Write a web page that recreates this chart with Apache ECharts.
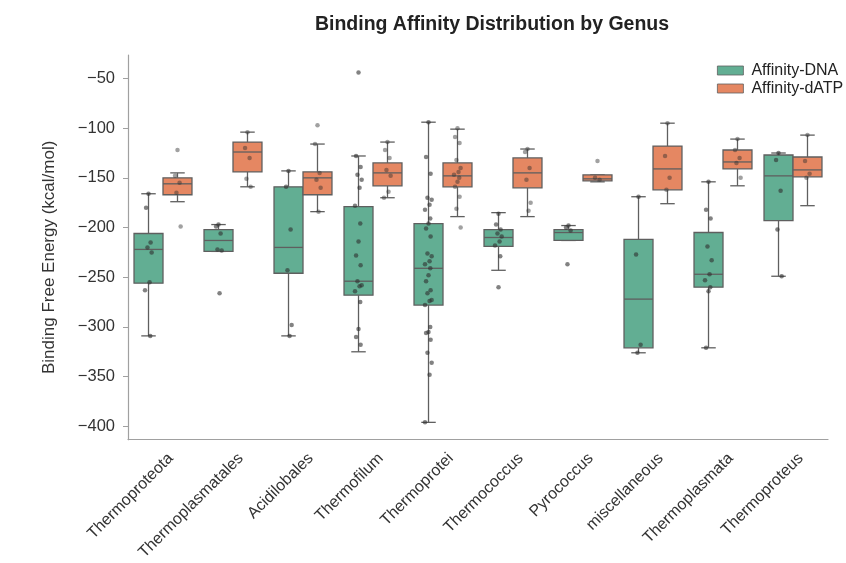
<!DOCTYPE html>
<html>
<head>
<meta charset="utf-8">
<script src="https://cdn.jsdelivr.net/npm/echarts@6/dist/echarts.min.js"></script>
<style>
html,body{margin:0;padding:0;background:#fff;}
#chart{width:846px;height:563px;}
</style>
</head>
<body>
<div id="chart"></div>
<script>
// ---------------- data ----------------
const categories = ['Thermoproteota','Thermoplasmatales','Acidilobales','Thermofilum','Thermoprotei','Thermococcus','Pyrococcus','miscellaneous','Thermoplasmata','Thermoproteus'];
const seriesNames = ['Affinity-DNA','Affinity-dATP'];
const yTicks = [-400,-350,-300,-250,-200,-150,-100,-50];

// box stats: [lower whisker, Q1, median, Q3, upper whisker]
const dnaBoxes = [
  [-309,-256,-222,-206,-166],
  [-224,-224,-213,-202,-197],
  [-309,-246,-220,-159,-143],
  [-325,-268,-254,-179,-128],
  [-396,-278,-241,-196,-94],
  [-243,-219,-210,-202,-185],
  [-213,-213,-205,-202,-198],
  [-326,-321,-272,-212,-169],
  [-321,-260,-247,-205,-154],
  [-249,-193,-148,-127,-125]
];
const datpBoxes = [
  [-174,-167,-156,-150,-145],
  [-159,-144,-124,-114,-104],
  [-184,-167,-150,-144,-116],
  [-170,-158,-145,-135,-114],
  [-189,-159,-148,-135,-101],
  [-189,-160,-145,-130,-121],
  [-154,-153,-151,-147,-147],
  [-176,-162,-141,-118,-95],
  [-158,-141,-134,-122,-111],
  [-178,-149,-142,-129,-107]
];

// individual observations (strip points), per genus
const dnaPoints = [
  [-166,-180,-215,-220,-225,-255,-263,-309],
  [-197,-199,-206,-222,-223,-266],
  [-143,-159,-202,-243,-298,-309],
  [-44,-128,-139,-147,-152,-160,-178,-196,-214,-228,-238,-254,-258,-259,-264,-275,-302,-310,-318],
  [-94,-129,-146,-170,-172,-177,-182,-191,-196,-201,-209,-226,-229,-234,-237,-241,-248,-254,-263,-266,-273,-274,-278,-300,-305,-306,-313,-326,-336,-348,-396],
  [-186,-197,-202,-206,-209,-214,-218,-229,-260],
  [-198,-200,-203,-237],
  [-169,-227,-318,-326],
  [-154,-182,-191,-219,-233,-247,-253,-260,-264,-321],
  [-125,-132,-163,-202,-249]
];
const datpPoints = [
  [-122,-148,-155,-165,-199],
  [-104,-120,-130,-151,-159],
  [-97,-116,-145,-152,-160,-184],
  [-114,-122,-130,-142,-148,-164,-170],
  [-100,-109,-115,-132,-140,-144,-147,-150,-154,-159,-169,-181,-200],
  [-121,-124,-140,-152,-175,-183],
  [-133,-150,-152],
  [-95,-128,-150,-162],
  [-111,-122,-130,-135,-150],
  [-107,-133,-146,-150]
];

// ---------------- styling ----------------
const FONT = '"Liberation Sans", Arial, Helvetica, sans-serif';
const GREEN = '#62ae93';
const ORANGE = '#e58762';
const EDGE = '#5f5f5f';
const AXIS = '#a0a0a0';
const jitterPattern = [0, -0.035, 0.03, -0.015, 0.045, 0.015, -0.05, 0.025];
const groupOffset = 0.207; // box centre offset (category units)
const boxHalf = 0.207;     // half box width (category units)

function stripData(points, sign) {
  const out = [];
  points.forEach((vals, ci) => {
    vals.forEach((v, k) => {
      out.push([ci + sign * groupOffset + jitterPattern[k % jitterPattern.length], v]);
    });
  });
  return out;
}
function boxData(boxes) {
  return boxes.map((b, i) => [i].concat(b));
}
function boxRenderer(sign, fill) {
  return function (params, api) {
    const ci = api.value(0);
    const band = api.size([1, 0])[0];
    const cx = api.coord([ci, api.value(3)])[0] + sign * band * groupOffset;
    const y = i => api.coord([ci, api.value(i)])[1];
    const yMin = y(1), yQ1 = y(2), yMed = y(3), yQ3 = y(4), yMax = y(5);
    const hw = band * boxHalf, cw = hw / 2;
    const ls = {stroke: EDGE, lineWidth: 1.3};
    return {type: 'group', children: [
      {type: 'line', shape: {x1: cx, y1: yQ3, x2: cx, y2: yMax}, style: ls},
      {type: 'line', shape: {x1: cx, y1: yQ1, x2: cx, y2: yMin}, style: ls},
      {type: 'line', shape: {x1: cx - cw, y1: yMax, x2: cx + cw, y2: yMax}, style: ls},
      {type: 'line', shape: {x1: cx - cw, y1: yMin, x2: cx + cw, y2: yMin}, style: ls},
      {type: 'rect', shape: {x: cx - hw, y: yQ3, width: 2 * hw, height: yQ1 - yQ3}, style: {fill: fill, stroke: EDGE, lineWidth: 1.3}},
      {type: 'line', shape: {x1: cx - hw, y1: yMed, x2: cx + hw, y2: yMed}, style: ls}
    ]};
  };
}

const chart = echarts.init(document.getElementById('chart'), null, {renderer: 'canvas'});
const fmt = v => String(v).replace('-', '\u2212');

const option = {
  backgroundColor: '#ffffff',
  animation: false,
  title: {
    text: 'Binding Affinity Distribution by Genus',
    left: 487, top: 10, textAlign: 'center',
    textStyle: {fontFamily: FONT, fontSize: 19.5, fontWeight: 'bold', color: '#222'}
  },
  legend: {
    data: [
      {name: seriesNames[0], itemStyle: {color: GREEN, borderColor: EDGE, borderWidth: 0.8}},
      {name: seriesNames[1], itemStyle: {color: ORANGE, borderColor: EDGE, borderWidth: 0.8}}
    ],
    orient: 'vertical',
    left: 712, top: 57,
    itemWidth: 26, itemHeight: 9, itemGap: 1,
    icon: 'rect',
    textStyle: {fontFamily: FONT, fontSize: 16, color: '#222', padding: [0,0,0,3], lineHeight: 17}
  },
  grid: {left: 128, right: 18, top: 55, bottom: 123, containLabel: false},
  xAxis: [
    {
      type: 'category', data: categories, boundaryGap: true,
      axisLine: {onZero: false, lineStyle: {color: AXIS, width: 1.2}},
      axisTick: {alignWithLabel: true, length: 5, lineStyle: {color: AXIS}},
      axisLabel: {rotate: 45, margin: 24, padding: [0,-11,0,0], fontFamily: FONT, fontSize: 16, color: '#333', interval: 0},
      splitLine: {show: false}
    },
    {type: 'value', min: -0.5, max: 9.5, show: false}
  ],
  yAxis: {
    type: 'value', min: -413.4, max: -26.4,
    name: 'Binding Free Energy (kcal/mol)', nameLocation: 'middle', nameGap: 70,
    nameTextStyle: {fontFamily: FONT, fontSize: 17, color: '#333', padding: [0,20,0,0]},
    axisLine: {show: true, onZero: false, lineStyle: {color: AXIS, width: 1.2}},
    axisTick: {show: true, length: 5, customValues: yTicks, lineStyle: {color: AXIS}},
    axisLabel: {customValues: yTicks, formatter: fmt, margin: 13, fontFamily: FONT, fontSize: 16.5, color: '#333'},
    splitLine: {show: false}
  },
  series: [
    {
      name: seriesNames[0], type: 'custom', xAxisIndex: 0, data: boxData(dnaBoxes),
      encode: {x: 0, y: [1, 2, 3, 4, 5]},
      itemStyle: {color: GREEN}, renderItem: boxRenderer(-1, GREEN), silent: true
    },
    {
      name: seriesNames[1], type: 'custom', xAxisIndex: 0, data: boxData(datpBoxes),
      encode: {x: 0, y: [1, 2, 3, 4, 5]},
      itemStyle: {color: ORANGE}, renderItem: boxRenderer(1, ORANGE), silent: true
    },
    {
      name: 'dna-points', type: 'scatter', xAxisIndex: 1, data: stripData(dnaPoints, -1),
      symbolSize: 4.5, itemStyle: {color: '#2e2e2e', opacity: 0.6}, z: 5, silent: true
    },
    {
      name: 'datp-points', type: 'scatter', xAxisIndex: 1, data: stripData(datpPoints, 1),
      symbolSize: 4.5, itemStyle: {color: '#2e2e2e', opacity: 0.45}, z: 5, silent: true
    }
  ]
};
chart.setOption(option);
</script>
</body>
</html>
